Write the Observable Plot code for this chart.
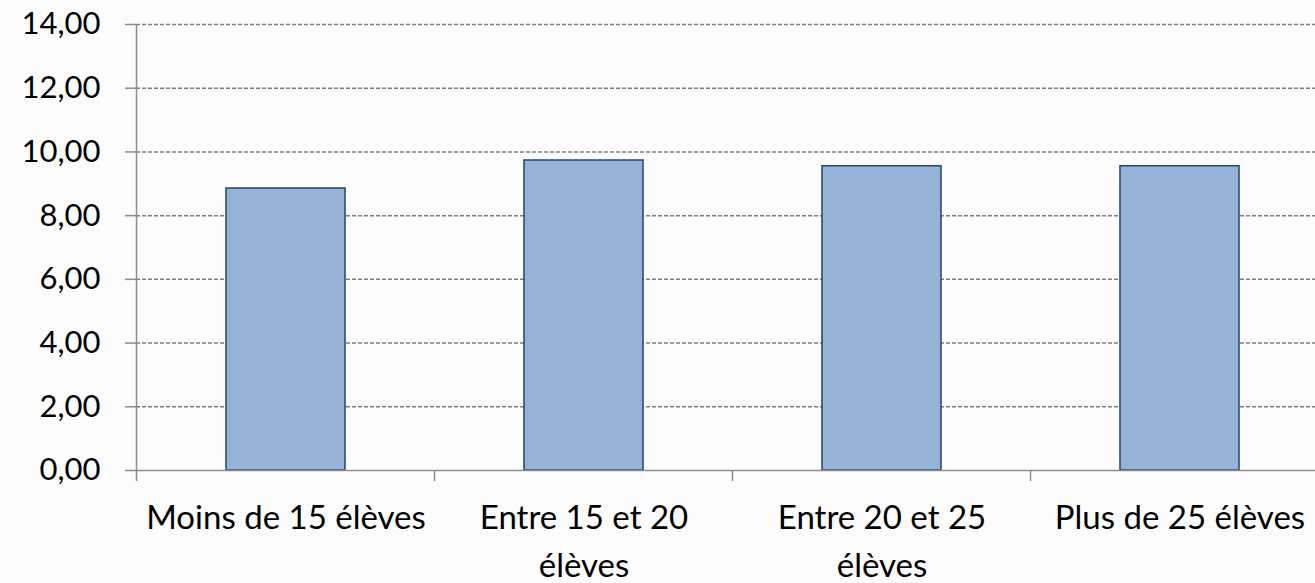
<!DOCTYPE html>
<html>
<head>
<meta charset="utf-8">
<script src="https://cdn.jsdelivr.net/npm/d3@7"></script>
<script src="https://cdn.jsdelivr.net/npm/@observablehq/plot@0.6"></script>
<style>
  html, body { margin: 0; padding: 0; background: #fcfcfc; }
  #chart svg { display: block; }
</style>
</head>
<body>
<div id="chart"></div>
<script>
const categories = ["Moins de 15 élèves", "Entre 15 et 20 élèves", "Entre 20 et 25 élèves", "Plus de 25 élèves"];
const categoryLabels = ["Moins de 15 élèves", "Entre 15 et 20\nélèves", "Entre 20 et 25\nélèves", "Plus de 25 élèves"];
const values = [8.85, 9.73, 9.55, 9.55];
const yTicks = [0, 2, 4, 6, 8, 10, 12, 14];

const data = categories.map((c, i) => ({cat: c, value: values[i]}));
const labelOf = new Map(categories.map((c, i) => [c, categoryLabels[i]]));

const font = "Lato, 'Open Sans', sans-serif";
const axisColor = "#8c8c8c";

// y-axis line and category boundary ticks, placed from the scales
function axisLines(index, scales) {
  const x = scales.x, y = scales.y;
  const bw = typeof x.bandwidth === "function" ? x.bandwidth() : x.bandwidth;
  const step = x(categories[1]) - x(categories[0]);
  const gap = step - bw;
  const y0 = y(0);
  const g = d3.create("svg:g").attr("stroke", axisColor).attr("stroke-width", 1.5);
  const left = x(categories[0]) - gap / 2;
  g.append("line").attr("x1", left).attr("x2", left).attr("y1", y(yTicks[yTicks.length - 1])).attr("y2", y0);
  const pos = categories.map(c => x(c) - gap / 2);
  pos.push(x(categories[categories.length - 1]) + bw + gap / 2);
  for (const p of pos) {
    g.append("line").attr("x1", p).attr("x2", p).attr("y1", y0).attr("y2", y0 + 11);
  }
  return g.node();
}

const chart = Plot.plot({
  width: 1315,
  height: 583,
  marginTop: 24,
  marginBottom: 113,
  marginLeft: 136,
  marginRight: 0,
  style: {background: "transparent", fontFamily: font},
  x: {domain: categories, range: [136, 1330], paddingInner: 0.6, paddingOuter: 0.3, label: null},
  y: {domain: [0, 14], label: null},
  marks: [
    Plot.gridY(yTicks.filter(d => d > 0), {stroke: "#7f7f7f", strokeOpacity: 1, strokeWidth: 1.5, strokeDasharray: "4,2"}),
    Plot.barY(data, {x: "cat", y: "value", fill: "#95b3d7", stroke: "#2e4a70", strokeWidth: 1.6}),
    Plot.ruleY([0], {stroke: axisColor, strokeWidth: 1.5}),
    Plot.axisY({ticks: yTicks, tickFormat: d => d.toFixed(2).replace(".", ","), tickSize: 11, tickPadding: 25, fontSize: 31, stroke: axisColor, fill: "#000", strokeWidth: 1.5, label: null}),
    Plot.axisX({tickSize: 0, tickPadding: 25, fontSize: 33, fill: "#000", lineHeight: 1.45, tickFormat: d => labelOf.get(d), textOverflow: null, label: null}),
    axisLines
  ]
});

document.getElementById("chart").appendChild(chart);
</script>
</body>
</html>
